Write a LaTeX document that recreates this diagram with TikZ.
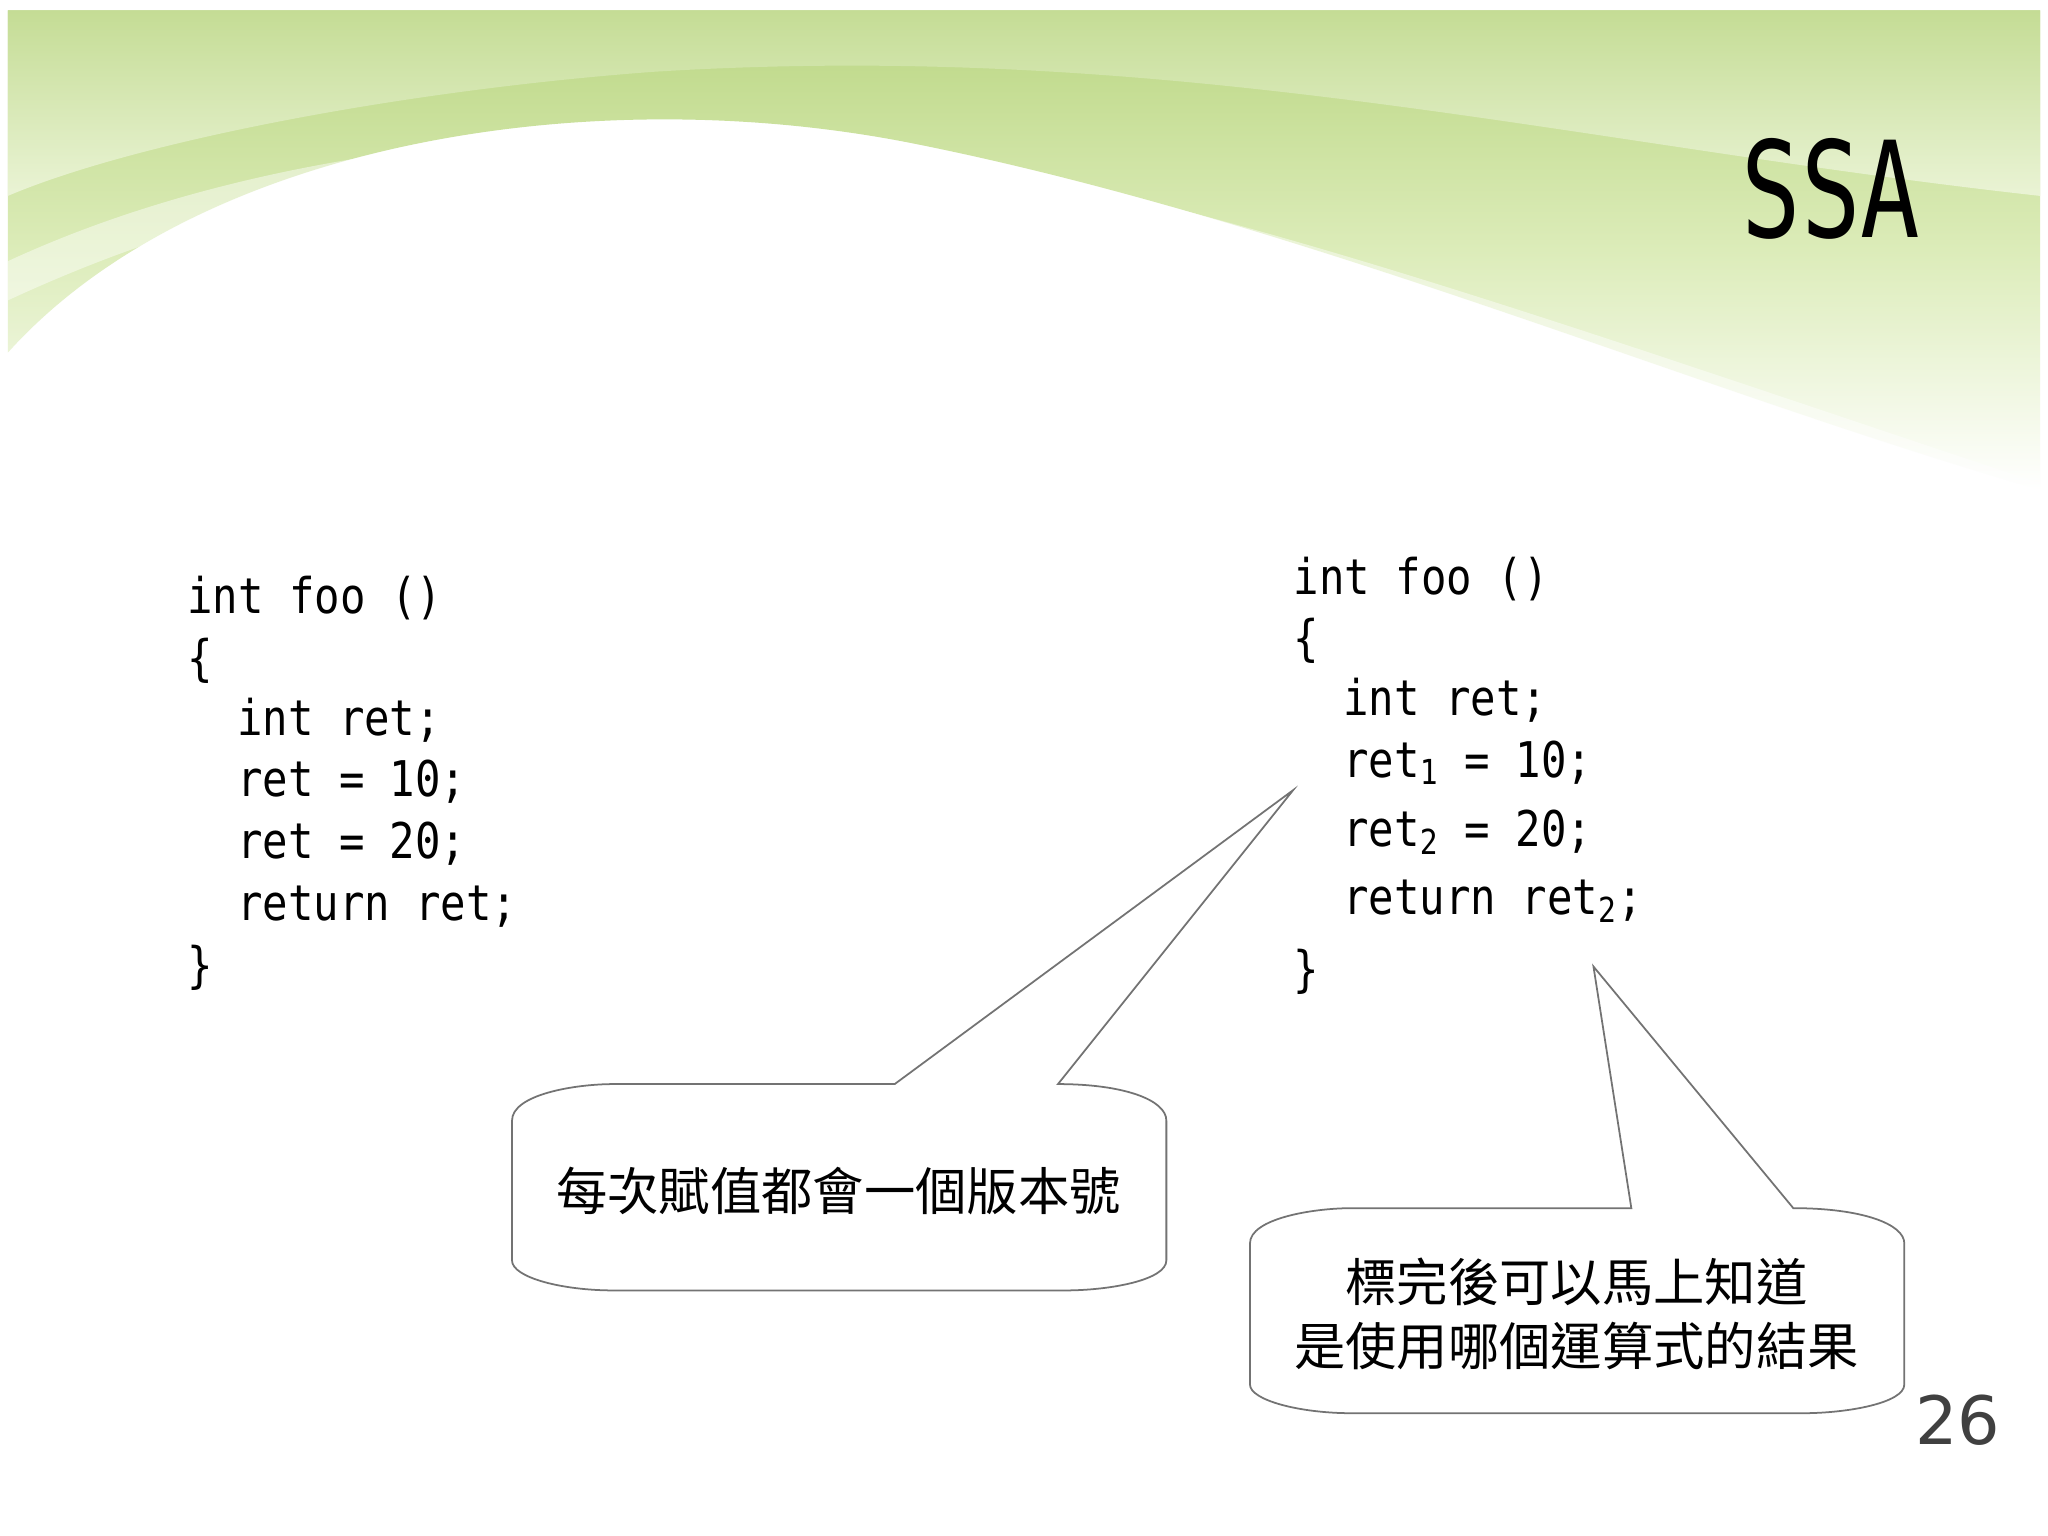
\documentclass[tikz,border=0pt]{standalone}
\usepackage{fontspec}
\setmainfont{DejaVu Sans}
\setmonofont[FakeStretch=0.86]{DejaVu Sans Mono}
\newfontfamily\titlefont[FakeStretch=0.74]{DejaVu Sans Mono}
\newfontfamily\cjk{Noto Sans CJK TC}
\definecolor{lg}{RGB}{186,214,130}
\definecolor{lg2}{RGB}{220,236,185}
\tikzset{
 code/.style={anchor=base west,inner sep=0pt,font=\ttfamily\fontsize{14}{17}\selectfont},
 callout/.style={draw=black!55,line width=0.5pt,fill=white},
 ctext/.style={font=\cjk\fontsize{14.6}{18}\selectfont,align=center,inner sep=0pt}
}
\begin{document}
\begin{tikzpicture}[x=0.013061cm,y=-0.013061cm]
\useasboundingbox (0,0) rectangle (1568,1176);
\fill[white] (0,0) rectangle (1568,1176);
% background waves
\shade[top color=lg,bottom color=white,middle color=lg2]
 (6,8) -- (1562,8) -- (1562,375) .. controls (1300,300) and (1000,170) .. (700,110)
 .. controls (450,60) and (150,110) .. (6,270) -- cycle;
\shade[top color=lg!85,bottom color=lg2!60]
 (6,8) -- (1562,8) -- (1562,150) .. controls (1200,110) and (900,30) .. (500,55)
 .. controls (300,70) and (100,110) .. (6,150) -- cycle;
\fill[white,opacity=0.45] (6,200) .. controls (200,110) and (450,90) .. (650,110)
 .. controls (900,140) and (1200,250) .. (1562,370) -- (1562,380) .. controls (1200,270) and (900,170) .. (650,130)
 .. controls (400,110) and (200,140) .. (6,230) -- cycle;
\node[anchor=base west,inner sep=0pt,font=\titlefont\fontsize{38}{38}\selectfont] (title) at (1333,182) {SSA};
% left code
\node[code] (l1) at (143,470) {int foo ()};
\node[code] (l2) at (143,517) {\{};
\node[code] (l3) at (181,563) {int ret;};
\node[code] (l4) at (181,610) {ret = 10;};
\node[code] (l5) at (181,657) {ret = 20;};
\node[code] (l6) at (181,705) {return ret;};
\node[code] (l7) at (143,752) {\}};
% right code
\node[code] (r1) at (990,455) {int foo ()};
\node[code] (r2) at (990,502) {\{};
\node[code] (r3) at (1028,548) {int ret;};
\node[code] (r4) at (1028,595) {ret\textsubscript{1} = 10;};
\node[code] (r5) at (1028,648) {ret\textsubscript{2} = 20;};
\node[code] (r6) at (1028,700) {return ret\textsubscript{2};};
\node[code] (r7) at (990,755) {\}};
% callouts
\coordinate (tipA) at (990,605);
\coordinate (tipB) at (1220,740);
\draw[callout] (392,858) .. controls (392,838) and (440,830) .. (470,830) -- (685,830) -- (tipA) -- (810,830)
 .. controls (860,830) and (893,842) .. (893,858) -- (893,965) .. controls (893,980) and (850,988) .. (815,988)
 -- (470,988) .. controls (430,988) and (392,978) .. (392,965) -- cycle;
\node[ctext] (ca) at (642,912) {每次賦值都會一個版本號};
\draw[callout] (957,952) .. controls (957,933) and (1005,925) .. (1035,925) -- (1249,925) -- (tipB) -- (1373,925)
 .. controls (1425,925) and (1458,937) .. (1458,952) -- (1458,1060) .. controls (1458,1074) and (1415,1082) .. (1380,1082)
 -- (1035,1082) .. controls (995,1082) and (957,1072) .. (957,1060) -- cycle;
\node[ctext] (cb) at (1207,1006) {標完後可以馬上知道\\是使用哪個運算式的結果};
\node[anchor=base east,inner sep=0pt,font=\fontsize{19}{19}\selectfont,text=black!75] (pg) at (1532,1106) {26};
\end{tikzpicture}
\end{document}
